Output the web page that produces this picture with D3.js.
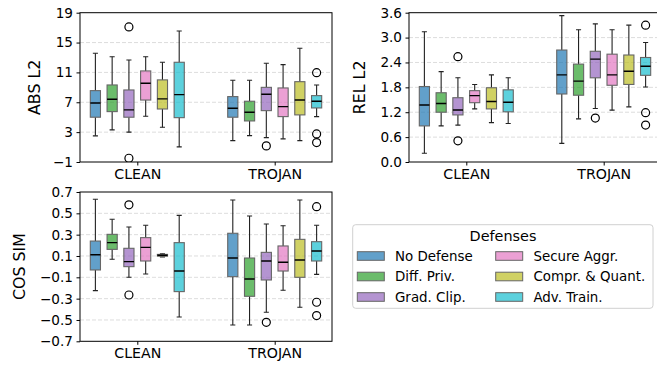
<!DOCTYPE html>
<html><head><meta charset="utf-8">
<script src="https://cdn.jsdelivr.net/npm/d3@7"></script>
<style>body{margin:0;background:#fff}svg{display:block;font-family:"DejaVu Sans",sans-serif}</style>
</head><body><svg id="c" width="657" height="365"></svg>
<script>
const categories = ["CLEAN", "TROJAN"];
const defenses = ["No Defense", "Diff. Priv.", "Grad. Clip.", "Secure Aggr.", "Compr. & Quant.", "Adv. Train."];
const colors = ["#1f77b4", "#2ca02c", "#9467bd", "#e377c2", "#bcbd22", "#17becf"];

// [whislo, q1, median, q3, whishi] per defense
const absL2Clean = [[2.5,5.0,6.91,8.56,13.56],[3.3,5.75,7.4,9.32,13.1],[3.0,5.0,5.98,8.65,12.67],[5.13,7.3,9.55,11.2,13.1],[3.66,6.1,7.45,10.0,12.36],[1.02,4.94,8.02,12.36,16.55]];
const absL2Trojan = [[1.87,5.0,6.2,7.76,9.95],[2.53,4.5,5.67,7.14,9.95],[2.27,5.88,8.07,9.0,12.23],[2.1,5.08,6.42,8.92,12.04],[1.87,5.31,7.31,9.76,14.23],[5.08,6.24,7.14,7.89,9.32]];
const absL2OutClean = [[],[],[17.1,-0.5],[],[],[]];
const absL2OutTrojan = [[],[],[1.16],[],[],[10.97,2.76,1.6]];

const relL2Clean = [[0.21,0.87,1.375,1.82,3.14],[0.87,1.2,1.41,1.67,2.18],[0.89,1.135,1.255,1.55,2.03],[1.28,1.43,1.6,1.72,1.87],[0.95,1.28,1.46,1.79,2.1],[0.93,1.21,1.44,1.74,2.03]];
const relL2Trojan = [[0.45,1.64,2.1,2.7,3.53],[1.04,1.61,1.95,2.36,3.19],[1.29,2.03,2.48,2.67,3.33],[1.25,1.85,2.1,2.6,3.19],[1.33,1.87,2.19,2.58,3.3],[1.81,2.09,2.31,2.52,2.88]];
const relL2OutClean = [[],[],[2.54,0.51],[],[],[]];
const relL2OutTrojan = [[],[],[1.06],[],[],[3.3,1.19,0.89]];

const cosSimClean = [[-0.225,-0.031,0.112,0.24,0.632],[0.069,0.162,0.225,0.303,0.444],[-0.1,0.0,0.047,0.172,0.372],[-0.069,0.053,0.181,0.272,0.388],[0.092,0.098,0.107,0.115,0.121],[-0.472,-0.234,-0.041,0.225,0.481]];
const cosSimTrojan = [[-0.547,-0.094,0.081,0.313,0.625],[-0.547,-0.278,-0.116,0.081,0.475],[-0.428,-0.125,0.053,0.134,0.4],[-0.222,-0.041,0.041,0.194,0.384],[-0.381,-0.1,0.063,0.256,0.625],[-0.072,0.053,0.147,0.234,0.388]];
const cosSimOutClean = [[],[],[0.58,-0.266],[],[],[]];
const cosSimOutTrojan = [[],[],[-0.522],[],[],[0.562,-0.334,-0.459]];

const absTicks = [-1,3,7,11,15,19];
const relTicks = [0,0.6,1.2,1.8,2.4,3.0,3.6];
const cosTicks = [-0.7,-0.5,-0.3,-0.1,0.1,0.3,0.5,0.7];

const svg = d3.select("#c");
let clipId = 0;

function panel(o) {
  const g = svg.append("g").attr("transform", `translate(${o.left},${o.top})`);
  const W = o.width, H = o.height;
  const x = d3.scaleLinear().domain([-0.417, 1.417]).range([0, W]);
  const y = d3.scaleLinear().domain([o.ticks[0], o.ticks[o.ticks.length-1]]).range([H, 0]);
  const id = "clip" + (clipId++);
  g.append("clipPath").attr("id", id).append("rect").attr("width", W).attr("height", H);

  // grid
  g.append("g").selectAll("line").data(o.ticks.slice(1, -1)).join("line")
    .attr("x1", 0).attr("x2", W).attr("y1", d => y(d)).attr("y2", d => y(d))
    .attr("stroke", "#d9d9d9").attr("stroke-width", 0.9).attr("stroke-dasharray", "4,2");

  const plot = g.append("g").attr("clip-path", `url(#${id})`);
  const step = 0.122, bw = 0.074;
  const boxW = x(bw) - x(0);
  [o.clean, o.trojan].forEach((arr, ci) => {
    const outs = ci === 0 ? o.outClean : o.outTrojan;
    arr.forEach((s, i) => {
      const cx = x(ci + (i - 2.5) * step);
      const bg = plot.append("g");
      // whiskers
      bg.append("line").attr("x1", cx).attr("x2", cx).attr("y1", y(s[0])).attr("y2", y(s[1]))
        .attr("stroke", "#222").attr("stroke-width", 1.1);
      bg.append("line").attr("x1", cx).attr("x2", cx).attr("y1", y(s[3])).attr("y2", y(s[4]))
        .attr("stroke", "#222").attr("stroke-width", 1.1);
      [s[0], s[4]].forEach(v => bg.append("line").attr("x1", cx - boxW/4).attr("x2", cx + boxW/4)
        .attr("y1", y(v)).attr("y2", y(v)).attr("stroke", "#222").attr("stroke-width", 1.1));
      bg.append("rect").attr("x", cx - boxW/2).attr("width", boxW)
        .attr("y", y(s[3])).attr("height", Math.max(0.5, y(s[1]) - y(s[3])))
        .attr("fill", colors[i]).attr("fill-opacity", 0.7)
        .attr("stroke", "#666").attr("stroke-width", 1.1);
      bg.append("line").attr("x1", cx - boxW/2).attr("x2", cx + boxW/2)
        .attr("y1", y(s[2])).attr("y2", y(s[2])).attr("stroke", "#000").attr("stroke-width", 1.4);
      bg.selectAll("circle").data(outs[i]).join("circle")
        .attr("cx", cx).attr("cy", d => y(d)).attr("r", 4)
        .attr("fill", "none").attr("stroke", "#000").attr("stroke-width", 1.2);
    });
  });

  // frame
  g.append("rect").attr("width", W).attr("height", H).attr("fill", "none")
    .attr("stroke", "#000").attr("stroke-width", 1);

  // y axis
  const ya = g.append("g").call(d3.axisLeft(y).tickValues(o.ticks).tickFormat(d3.format(o.fmt))
    .tickSize(3.5).tickPadding(3.5).tickSizeOuter(0));
  ya.select(".domain").remove();
  ya.selectAll("text").attr("font-size", 13.6).attr("fill", "#000").attr("font-family", "DejaVu Sans");
  ya.selectAll("line").attr("stroke", "#000");

  // x axis
  const xa = g.append("g").attr("transform", `translate(0,${H})`)
    .call(d3.axisBottom(x).tickValues([0, 1]).tickFormat(d => categories[d])
      .tickSize(3.5).tickPadding(3.5).tickSizeOuter(0));
  xa.select(".domain").remove();
  xa.selectAll("text").attr("font-size", 14.2).attr("fill", "#000").attr("font-family", "DejaVu Sans");
  xa.selectAll("line").attr("stroke", "#000");

  svg.append("text").attr("transform", `translate(${o.labelX},${o.top + H/2}) rotate(-90)`)
    .attr("text-anchor", "middle").attr("dy", "0.36em").attr("font-size", 15.8).text(o.label);
}

panel({left: 80, top: 12.7, width: 252, height: 149.3, ticks: absTicks, fmt: "d", label: "ABS L2", labelX: 34,
  clean: absL2Clean, trojan: absL2Trojan, outClean: absL2OutClean, outTrojan: absL2OutTrojan});
panel({left: 409, top: 12.7, width: 252, height: 149.3, ticks: relTicks, fmt: ".1f", label: "REL L2", labelX: 359,
  clean: relL2Clean, trojan: relL2Trojan, outClean: relL2OutClean, outTrojan: relL2OutTrojan});
panel({left: 80, top: 192, width: 252, height: 149.3, ticks: cosTicks, fmt: ".1f", label: "COS SIM", labelX: 19,
  clean: cosSimClean, trojan: cosSimTrojan, outClean: cosSimOutClean, outTrojan: cosSimOutTrojan});

// legend
const lg = svg.append("g").attr("transform", "translate(352.7,224.7)");
lg.append("rect").attr("width", 300.3).attr("height", 83.6).attr("rx", 3)
  .attr("fill", "#fff").attr("stroke", "#d0d0d0").attr("stroke-width", 1);
lg.append("text").attr("x", 150.3).attr("y", 16.5).attr("text-anchor", "middle")
  .attr("font-size", 14.4).text("Defenses");
defenses.forEach((d, i) => {
  const col = Math.floor(i / 3), row = i % 3;
  const gx = 4.6 + col * 138.4, gy = 27 + row * 20.5;
  lg.append("rect").attr("x", gx).attr("y", gy).attr("width", 27).attr("height", 8.6)
    .attr("fill", colors[i]).attr("fill-opacity", 0.7).attr("stroke", "#666").attr("stroke-width", 1);
  lg.append("text").attr("x", gx + 37.7).attr("y", gy + 4.3).attr("dy", "0.36em")
    .attr("font-size", 13.4).text(d);
});
</script></body></html>
